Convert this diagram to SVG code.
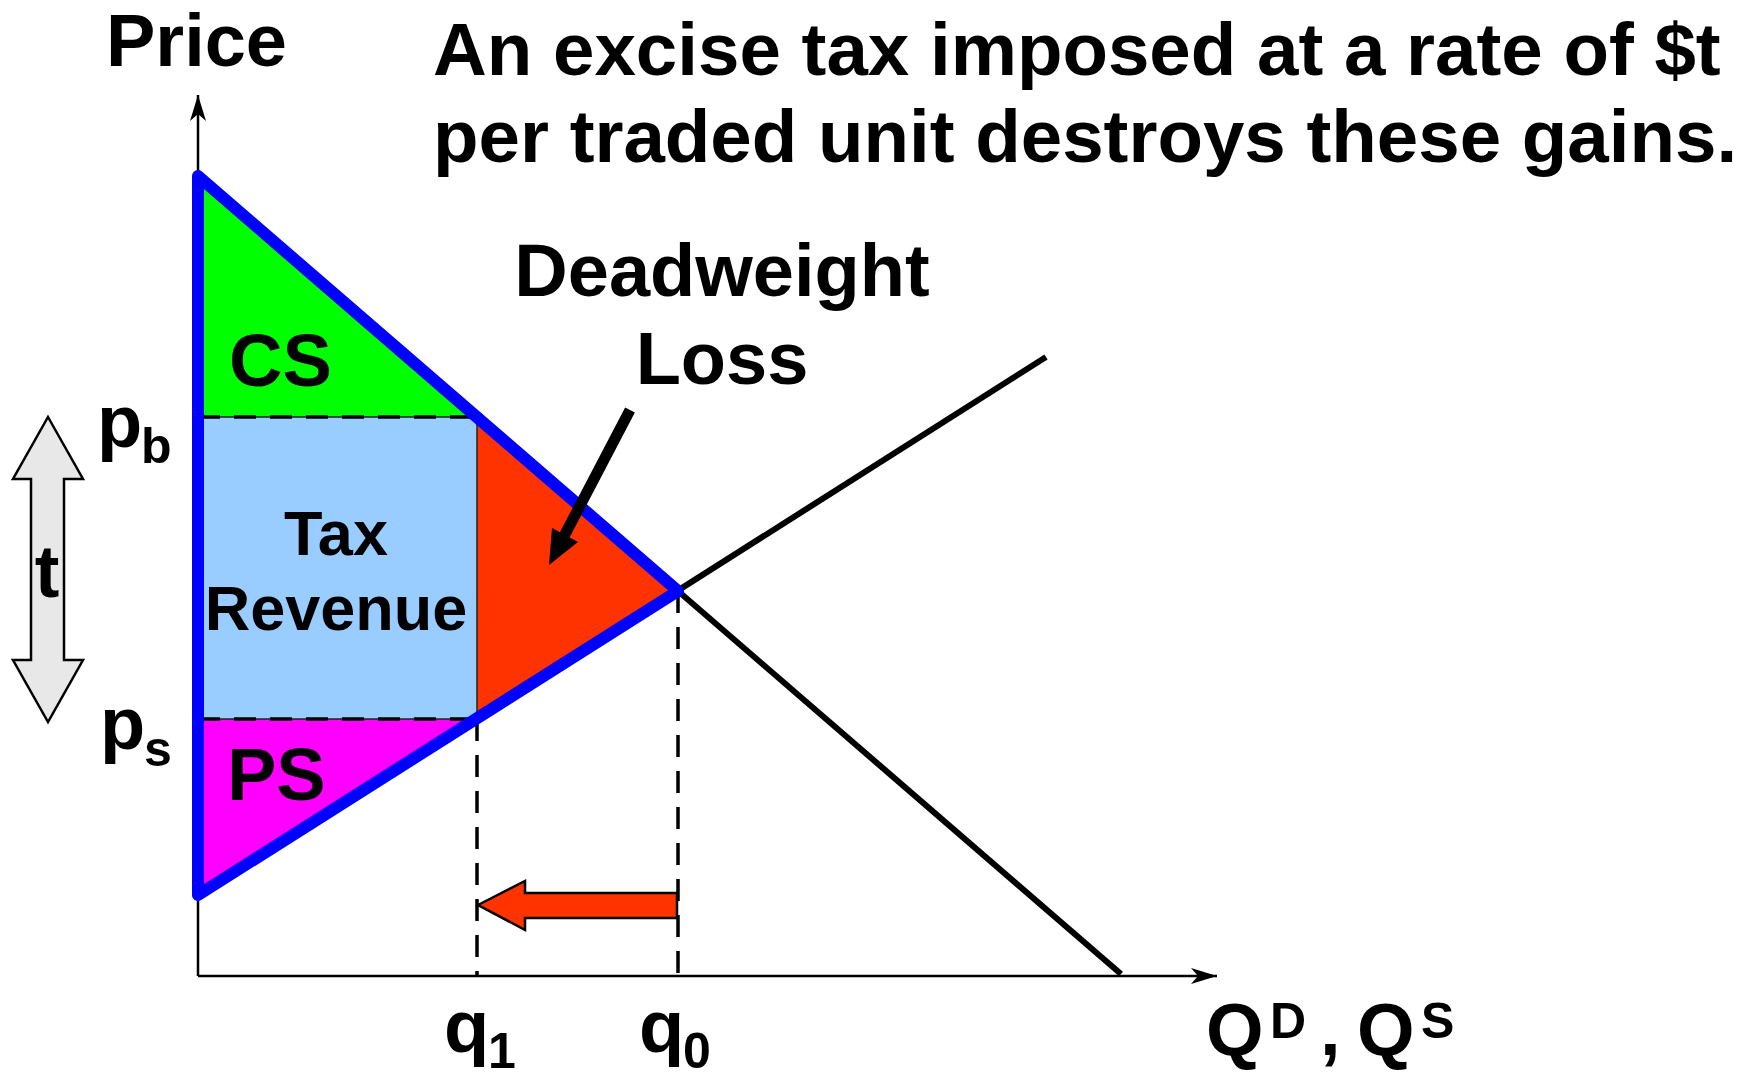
<svg xmlns="http://www.w3.org/2000/svg" width="1754" height="1080" viewBox="0 0 1754 1080">
<style>
text{font-family:"Liberation Sans",Arial,sans-serif;font-weight:bold;fill:#000}
.big{font-size:74px}
.ttl{font-size:74.5px}
.mid{font-size:63px}
.sub{font-size:50px}
.dash{stroke:#000;stroke-width:3.5;stroke-dasharray:22 14;fill:none}
.curve{stroke:#000;stroke-width:6;fill:none;stroke-linecap:butt}
.axis{stroke:#000;stroke-width:2.5;fill:none}
</style>
<defs>
<marker id="ah" markerUnits="userSpaceOnUse" markerWidth="30" markerHeight="20" viewBox="0 0 30 20" refX="26" refY="10" orient="auto">
<path d="M0,2 L26,10 L0,18 L7,10 Z" fill="#000"/>
</marker>
</defs>
<g id="areas">
<g id="cs-area"><polygon points="198,176 477,417 198,417" fill="#00FF00"/></g>
<g id="dwl-area"><polygon points="477,417 678,591 477,719" fill="#FF3300"/></g>
<g id="ps-area"><polygon points="198,719 477,719 198,895" fill="#FF00FF"/></g>
<g id="tax-area"><rect x="198" y="417" width="279" height="302" rx="5" fill="#99CCFF" stroke="#222" stroke-width="1.5"/></g>
</g>
<g id="connectors">
<line class="axis" x1="198" y1="976" x2="198" y2="95" marker-end="url(#ah)"/>
<line class="axis" x1="198" y1="976" x2="1217" y2="976" marker-end="url(#ah)"/>
<line class="dash" x1="198" y1="417" x2="477" y2="417"/>
<line class="dash" x1="198" y1="719" x2="477" y2="719"/>
<line class="dash" x1="477" y1="719" x2="477" y2="976"/>
<line class="dash" x1="678" y1="591" x2="678" y2="976"/>
<line class="curve" x1="198" y1="176" x2="1121" y2="974"/>
<line class="curve" x1="198" y1="895" x2="1046" y2="357"/>
<polygon points="198,176 678,591 198,895" fill="none" stroke="#0000FF" stroke-width="12" stroke-linejoin="round"/>
<g id="dwl-pointer">
<line x1="630" y1="410" x2="561" y2="542" stroke="#000" stroke-width="11"/>
<polygon points="549,565 578,542 552,528" fill="#000"/>
</g>
<polygon id="shift-arrow" points="478,905 525,881 525,893 677,893 677,918 525,918 525,930" fill="#FF3300" stroke="#000" stroke-width="2.5" stroke-linejoin="miter"/>
<polygon id="t-arrow" points="48,417 83,479 64,479 64,660 83,660 48,722 13,660 31,660 31,479 13,479" fill="#E8E8E8" stroke="#000" stroke-width="2.5"/>
</g>
<g id="title">
<text class="ttl" x="433" y="75">An excise tax imposed at a rate of $t</text>
<text class="ttl" x="433" y="162">per traded unit destroys these gains.</text>
</g>
<g id="labels">
<text class="big" x="106" y="66">Price</text>
<text class="big" x="229" y="386">CS</text>
<text class="big" x="227" y="800">PS</text>
<text class="mid" x="336" y="555" text-anchor="middle">Tax</text>
<text class="mid" x="336" y="630" text-anchor="middle">Revenue</text>
<text class="big" x="722" y="296" text-anchor="middle">Deadweight</text>
<text class="big" x="722" y="384" text-anchor="middle">Loss</text>
<text class="big" x="47" y="597" text-anchor="middle">t</text>
<text class="big" x="97" y="447">p</text><text class="sub" x="141" y="463">b</text>
<text class="big" x="100" y="749">p</text><text class="sub" x="144" y="766">s</text>
<text class="big" x="444" y="1052">q</text><text class="sub" x="488" y="1068">1</text>
<text class="big" x="639" y="1052">q</text><text class="sub" x="683" y="1068">0</text>
<text class="big" x="1206" y="1055">Q</text><text class="sub" x="1270" y="1038">D</text>
<text class="big" x="1320" y="1055">,</text>
<text class="big" x="1357" y="1055">Q</text><text class="sub" x="1421" y="1038">S</text>
</g>
</svg>
